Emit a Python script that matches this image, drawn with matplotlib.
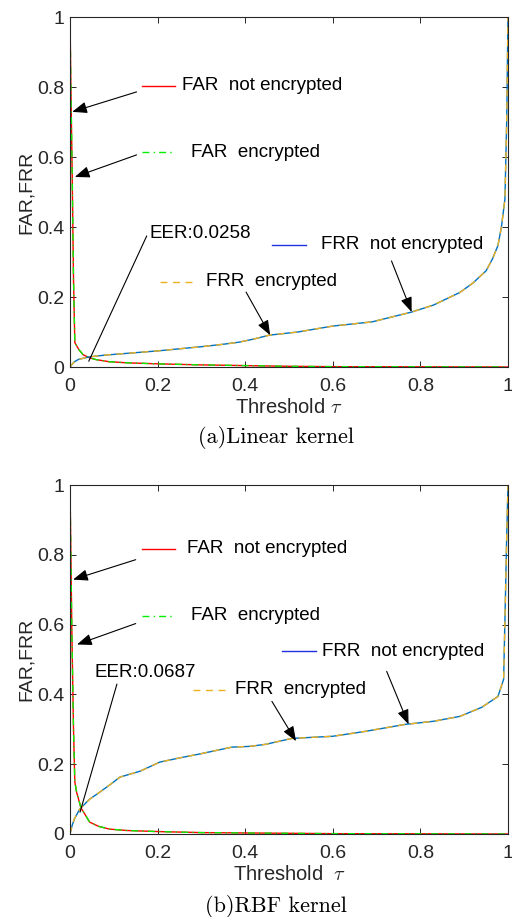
import matplotlib
matplotlib.use("Agg")
import matplotlib.pyplot as plt

plt.rcParams["font.family"] = ["Liberation Sans", "DejaVu Sans"]
plt.rcParams["mathtext.fontset"] = "cm"

# ---- data ----
# (a) Linear kernel
tau_far_lin = [0, 0.002, 0.005, 0.008, 0.011, 0.02, 0.03, 0.045, 0.06, 0.09, 0.13, 0.2, 0.3, 0.4, 0.5, 0.6, 0.8, 1.0]
far_lin_plain = [1.0, 0.8, 0.55, 0.25, 0.07, 0.05, 0.035, 0.026, 0.021, 0.015, 0.012, 0.009, 0.006, 0.004, 0.002, 0.001, 0.0005, 0.0]
far_lin_enc = [1.0, 0.8, 0.55, 0.25, 0.07, 0.05, 0.035, 0.026, 0.021, 0.015, 0.012, 0.009, 0.006, 0.004, 0.002, 0.001, 0.0005, 0.0]

tau_frr_lin = [0, 0.005, 0.01, 0.02, 0.045, 0.08, 0.12, 0.2, 0.25, 0.3, 0.35, 0.386, 0.42, 0.455, 0.52,
               0.6, 0.69, 0.78, 0.83, 0.89, 0.92, 0.95, 0.965, 0.977, 0.985, 0.993, 0.997, 1.0]
frr_lin_plain = [0, 0.008, 0.015, 0.022, 0.029, 0.034, 0.038, 0.046, 0.052, 0.058, 0.065, 0.071, 0.08, 0.091, 0.1,
                 0.117, 0.129, 0.157, 0.177, 0.213, 0.24, 0.275, 0.31, 0.347, 0.4, 0.48, 0.7, 1.0]
frr_lin_enc = [0, 0.008, 0.015, 0.022, 0.029, 0.034, 0.038, 0.046, 0.052, 0.058, 0.065, 0.071, 0.08, 0.091, 0.1,
               0.117, 0.129, 0.157, 0.177, 0.213, 0.24, 0.275, 0.31, 0.347, 0.4, 0.48, 0.7, 1.0]

# (b) RBF kernel
tau_far_rbf = [0, 0.004, 0.008, 0.011, 0.015, 0.025, 0.045, 0.065, 0.09, 0.13, 0.2, 0.3, 0.4, 0.6, 0.8, 1.0]
far_rbf_plain = [1.0, 0.6, 0.3, 0.15, 0.12, 0.075, 0.034, 0.022, 0.014, 0.01, 0.007, 0.004, 0.003, 0.001, 0.0005, 0.0]
far_rbf_enc = [1.0, 0.6, 0.3, 0.15, 0.12, 0.075, 0.034, 0.022, 0.014, 0.01, 0.007, 0.004, 0.003, 0.001, 0.0005, 0.0]

tau_frr_rbf = [0, 0.005, 0.01, 0.022, 0.045, 0.068, 0.09, 0.114, 0.16, 0.205, 0.25, 0.295, 0.37, 0.41, 0.447,
               0.507, 0.6, 0.674, 0.765, 0.83, 0.89, 0.94, 0.977, 0.99, 0.994, 0.997, 1.0]
frr_rbf_plain = [0, 0.025, 0.043, 0.071, 0.1, 0.12, 0.14, 0.163, 0.18, 0.206, 0.218, 0.229, 0.249, 0.251, 0.257,
                 0.274, 0.28, 0.294, 0.314, 0.323, 0.337, 0.363, 0.394, 0.443, 0.67, 0.85, 1.0]
frr_rbf_enc = [0, 0.025, 0.043, 0.071, 0.1, 0.12, 0.14, 0.163, 0.18, 0.206, 0.218, 0.229, 0.249, 0.251, 0.257,
               0.274, 0.28, 0.294, 0.314, 0.323, 0.337, 0.363, 0.394, 0.443, 0.67, 0.85, 1.0]

eer_labels = ["EER:0.0258", "EER:0.0687"]
captions = ["(a)Linear kernel", "(b)RBF kernel"]
xlabels = [r"Threshold $\tau$", r"Threshold  $\tau$"]
ticks = [0, 0.2, 0.4, 0.6, 0.8, 1]
tick_labels = ["0", "0.2", "0.4", "0.6", "0.8", "1"]

# annotation layout per panel (data coords)
layouts = [
    dict(far_p=(0.164, 0.239, 0.803, 0.255), far_e=(0.164, 0.239, 0.614, 0.277),
         arr_fp=((0.152, 0.786), (0.005, 0.729)), arr_fe=((0.152, 0.606), (0.011, 0.543)),
         eer_txt=(0.182, 0.38), eer_line=((0.175, 0.374), (0.043, 0.017)),
         frr_p=(0.461, 0.539, 0.35, 0.573), frr_e=(0.205, 0.280, 0.243, 0.311),
         arr_rp=((0.734, 0.303), (0.780, 0.157)), arr_re=((0.402, 0.214), (0.457, 0.091))),
    dict(far_p=(0.164, 0.239, 0.817, 0.266), far_e=(0.164, 0.239, 0.626, 0.277),
         arr_fp=((0.15, 0.786), (0.007, 0.729)), arr_fe=((0.15, 0.603), (0.016, 0.543)),
         eer_txt=(0.057, 0.463), eer_line=((0.107, 0.429), (0.023, 0.063)),
         frr_p=(0.484, 0.561, 0.523, 0.575), frr_e=(0.28, 0.357, 0.414, 0.377),
         arr_rp=((0.723, 0.466), (0.773, 0.314)), arr_re=((0.461, 0.38), (0.516, 0.266))),
]

panels = [
    (tau_far_lin, far_lin_plain, far_lin_enc, tau_frr_lin, frr_lin_plain, frr_lin_enc),
    (tau_far_rbf, far_rbf_plain, far_rbf_enc, tau_frr_rbf, frr_rbf_plain, frr_rbf_enc),
]

fig = plt.figure(figsize=(5.12, 9.17), dpi=100)
axes_rect = [[70 / 512, 1 - 367 / 917, 438 / 512, 350 / 917],
             [70 / 512, 1 - 834 / 917, 438 / 512, 349 / 917]]
cap_y = [1 - 437 / 917, 1 - 907 / 917]

axcol = "#262626"
fs = 13.5

for i, (rect, data, lay) in enumerate(zip(axes_rect, panels, layouts)):
    ax = fig.add_axes(rect)
    tf, fp, fe, tr, rp, re_ = data
    ax.plot(tf, fp, color="#ff0000", lw=1.0, ls="-")
    ax.plot(tf, fe, color="#00ee00", lw=1.0, ls=(0, (5, 3, 1, 3)))
    ax.plot(tr, rp, color="#0072BD", lw=1.0, ls="-")
    ax.plot(tr, re_, color="#EDB120", lw=1.0, ls=(0, (5, 4)))

    ax.set_xlim(0, 1)
    ax.set_ylim(0, 1)
    ax.set_xticks(ticks)
    ax.set_xticklabels(tick_labels)
    ax.set_yticks(ticks)
    ax.set_yticklabels(tick_labels)
    ax.tick_params(axis="both", direction="in", top=True, right=True, length=4, width=0.7,
                   colors=axcol, labelsize=14)
    ax.tick_params(axis="x", pad=8)
    ax.tick_params(axis="y", pad=4)
    for sp in ax.spines.values():
        sp.set_color(axcol)
        sp.set_linewidth(0.8)
    ax.set_xlabel(xlabels[i], fontsize=14.5, color=axcol, labelpad=2)
    ax.set_ylabel("FAR,FRR", fontsize=14, color=axcol, labelpad=2)

    # legend-like line samples + labels
    x0, x1, y, xt = lay["far_p"]
    ax.plot([x0, x1], [y, y], color="#ff0000", lw=1.0)
    ax.text(xt, y, "FAR  not encrypted", fontsize=fs, va="center", ha="left")
    x0, x1, y, xt = lay["far_e"]
    ax.plot([x0, x1], [y, y], color="#00ee00", lw=1.0, ls=(0, (5, 3, 1, 3)))
    ax.text(xt, y, "FAR  encrypted", fontsize=fs, va="center", ha="left")
    x0, x1, y, xt = lay["frr_p"]
    ax.plot([x0, x1], [y, y], color="#2030e0", lw=1.0)
    ax.text(xt, y, "FRR  not encrypted", fontsize=fs, va="center", ha="left")
    x0, x1, y, xt = lay["frr_e"]
    ax.plot([x0, x1], [y, y], color="#EDB120", lw=1.0, ls=(0, (5, 4)))
    ax.text(xt, y, "FRR  encrypted", fontsize=fs, va="center", ha="left")

    ax.text(*lay["eer_txt"], eer_labels[i], fontsize=fs, va="center", ha="left")
    (lx0, ly0), (lx1, ly1) = lay["eer_line"]
    ax.plot([lx0, lx1], [ly0, ly1], color="k", lw=0.8)

    for key in ["arr_fp", "arr_fe", "arr_rp", "arr_re"]:
        tail, head = lay[key]
        ax.annotate("", xy=head, xytext=tail,
                    arrowprops=dict(arrowstyle="-|>,head_length=0.9,head_width=0.35",
                                    color="k", lw=0.8, shrinkA=0, shrinkB=0,
                                    mutation_scale=10))

    fig.text(276 / 512, cap_y[i], captions[i], fontsize=16, family="cmr10",
             ha="center", va="center")

fig.savefig("out.png", dpi=100)
